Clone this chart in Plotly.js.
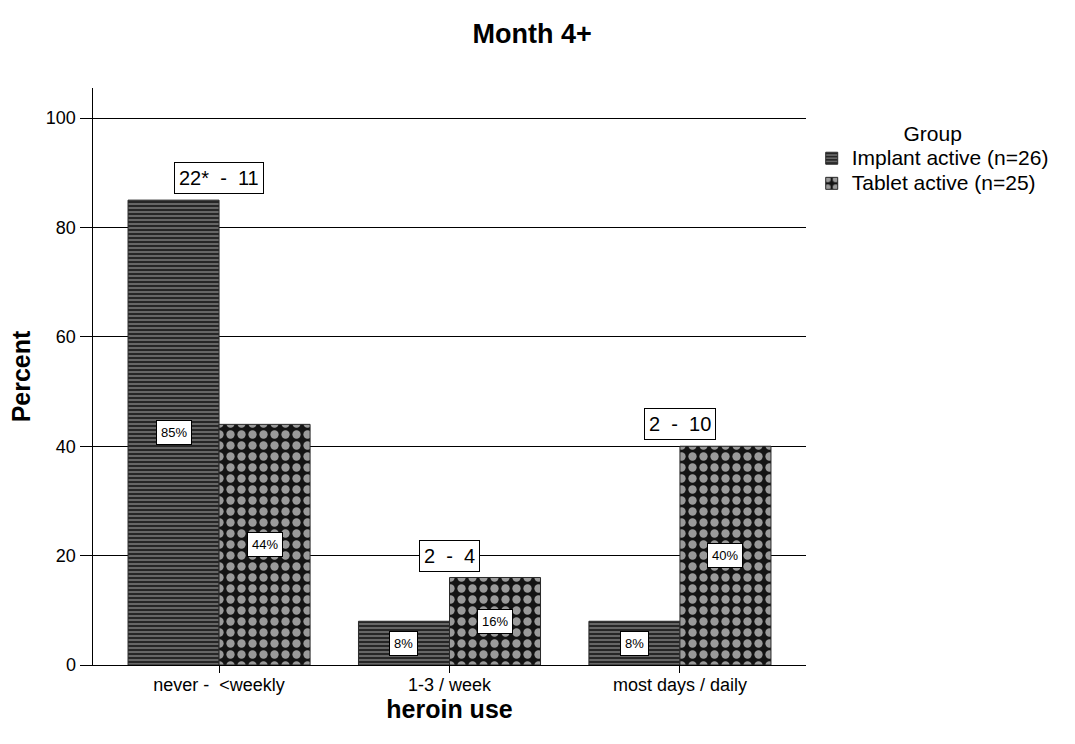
<!DOCTYPE html>
<html>
<head>
<meta charset="utf-8">
<script src="https://cdn.plot.ly/plotly-3.0.1.min.js"></script>
<style>html,body{margin:0;padding:0;background:#fff;}#chart{width:1075px;height:744px;}</style>
</head>
<body>
<div id="chart"></div>
<script>
var categories = ["never -  <weekly", "1-3 / week", "most days / daily"];
var seriesNames = ["Implant active (n=26)", "Tablet active (n=25)"];
var implantPct = [85, 8, 8];
var tabletPct = [44, 16, 40];
var pairLabels = ["22*  -  11", "2  -  4", "2  -  10"];
var yTicks = [0, 20, 40, 60, 80, 100];

var FONT = "Liberation Sans, Arial, sans-serif";
var idx = categories.map(function(_, i){ return i; });

function legendName(s){ return '<span style="font-size:21px">' + s + '</span>'; }

var traces = [
  {
    type: "bar", name: legendName(seriesNames[0]), x: idx, y: implantPct,
    marker: {
      color: "#4a4a4a",
      line: {color: "#2a2a2a", width: 1},
      pattern: {shape: "-", fgcolor: "#262626", bgcolor: "#666666", size: 4, solidity: 0.5}
    },
    hoverinfo: "none"
  },
  {
    type: "bar", name: legendName(seriesNames[1]), x: idx, y: tabletPct,
    marker: {
      color: "#333",
      line: {color: "#2a2a2a", width: 1},
      pattern: {shape: ".", fgcolor: "#9a9a9a", bgcolor: "#141414", size: 11, solidity: 0.45}
    },
    hoverinfo: "none"
  }
];

var bargap = 0.21;
var off = (1 - bargap) / 4;
var annotations = [];
function pctLabel(x, v){
  annotations.push({
    x: x, y: v / 2, xref: "x", yref: "y", text: v + "%", showarrow: false,
    font: {family: FONT, size: 13, color: "#000"},
    bgcolor: "#fff", bordercolor: "#000", borderwidth: 1, borderpad: 4
  });
}
idx.forEach(function(i){
  pctLabel(i - off, implantPct[i]);
  pctLabel(i + off, tabletPct[i]);
  annotations.push({
    x: i, y: Math.max(implantPct[i], tabletPct[i]) + 4, xref: "x", yref: "y",
    text: pairLabels[i], showarrow: false,
    font: {family: FONT, size: 20, color: "#000"},
    bgcolor: "#fff", bordercolor: "#000", borderwidth: 1, borderpad: 4
  });
});

var layout = {
  width: 1075, height: 744,
  paper_bgcolor: "#fff", plot_bgcolor: "#fff",
  margin: {l: 93, r: 269, t: 88, b: 79},
  font: {family: FONT, color: "#000"},
  title: {text: "<b>Month 4+</b>", font: {family: FONT, size: 27, color: "#000"}, x: 0.495, xref: "container", xanchor: "center", y: 0.955, yanchor: "middle"},
  barmode: "group", bargap: bargap, bargroupgap: 0,
  xaxis: {
    type: "linear", range: [-0.547, 2.547],
    tickmode: "array", tickvals: idx, ticktext: categories,
    ticks: "outside", ticklen: 7, tickcolor: "#000",
    ticklabelstandoff: -4,
    showline: true, linecolor: "#000", linewidth: 1,
    showgrid: false, zeroline: false,
    tickfont: {family: FONT, size: 18, color: "#000"},
    title: {text: "<b>heroin use</b>", font: {family: FONT, size: 25, color: "#000"}, standoff: 0}
  },
  yaxis: {
    range: [0, 105.5], tickmode: "array", tickvals: yTicks,
    ticks: "outside", ticklen: 12, tickcolor: "#000",
    showline: true, linecolor: "#000", linewidth: 1.5,
    showgrid: true, gridcolor: "#000", gridwidth: 1, zeroline: false,
    tickfont: {family: FONT, size: 18, color: "#000"},
    title: {text: "<b>Percent</b>", font: {family: FONT, size: 25, color: "#000"}, standoff: 8}
  },
  legend: {
    x: 1.008, xanchor: "left", y: 0.956, yanchor: "top",
    title: {text: "Group", side: "top center", font: {family: FONT, size: 21, color: "#000"}},
    font: {family: FONT, size: 17, color: "#000"},
    itemwidth: 30, tracegroupgap: 0, traceorder: "normal"
  },
  annotations: annotations,
  showlegend: true
};

Plotly.newPlot("chart", traces, layout, {staticPlot: true, displayModeBar: false});
</script>
</body>
</html>
